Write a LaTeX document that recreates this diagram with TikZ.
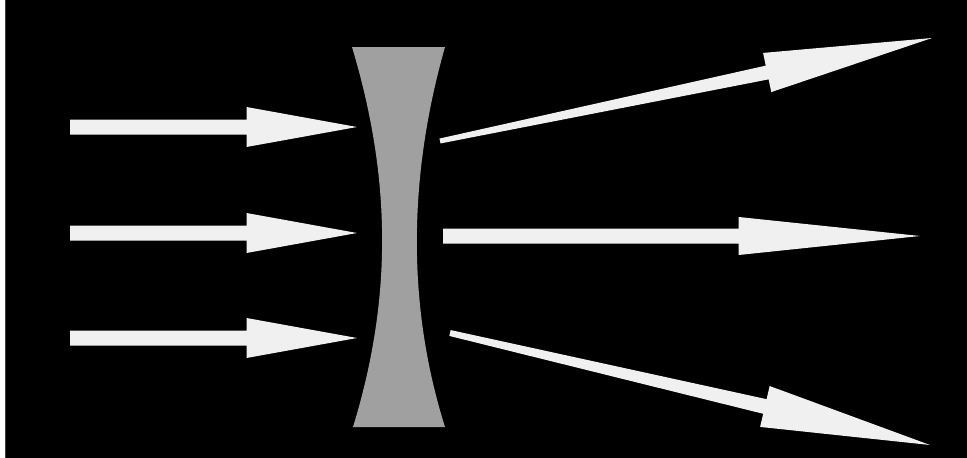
\documentclass[tikz,border=0pt]{standalone}
\usetikzlibrary{calc}
\definecolor{lensgray}{RGB}{160,160,160}
\definecolor{raywhite}{RGB}{240,240,240}
\tikzset{
  ray/.style={fill=raywhite},
  lens/.style={fill=lensgray}
}
% tapered arrow: #1 tail, #2 tip, #3 tail half width, #4 shaft half width at head,
% #5 head-base fraction, #6 head half width
\newcommand\taperarrow[6]{%
  \fill[ray] ($(#1)!#3!90:(#2)$)
    -- ($(#1)!#5!(#2)!#4!90:(#2)$)
    -- ($(#1)!#5!(#2)!#6!90:(#2)$)
    -- (#2)
    -- ($(#1)!#5!(#2)!#6!-90:(#2)$)
    -- ($(#1)!#5!(#2)!#4!-90:(#2)$)
    -- ($(#1)!#3!-90:(#2)$) -- cycle;}
\begin{document}
\begin{tikzpicture}[x=1pt,y=-1pt]
  \useasboundingbox (0,0) rectangle (967,458);
  \fill[white] (0,0) rectangle (967,458);
  \fill[black] (5,0) rectangle (967,458);
  \fill[black!75] (5,0) rectangle (6,458);
  % lens
  \fill[lens] (352,47) -- (445,47)
    .. controls (410,170) and (405,300) .. (445,427)
    -- (353,427)
    .. controls (392,300) and (392,180) .. (352,47) -- cycle;
  % incoming rays
  \coordinate (l1) at (70,127);  \coordinate (t1) at (357,127);
  \coordinate (l2) at (70,233);  \coordinate (t2) at (357,233);
  \coordinate (l3) at (70,338);  \coordinate (t3) at (357,338);
  \taperarrow{l1}{t1}{7.5pt}{7.5pt}{0.615}{20pt}
  \taperarrow{l2}{t2}{7.5pt}{7.5pt}{0.615}{20pt}
  \taperarrow{l3}{t3}{7.5pt}{7.5pt}{0.615}{20pt}
  % outgoing rays
  \coordinate (r1) at (440,141); \coordinate (s1) at (932,38);
  \coordinate (r2) at (443,236); \coordinate (s2) at (920,236);
  \coordinate (r3) at (450,333); \coordinate (s3) at (930,445);
  \taperarrow{r1}{s1}{2.5pt}{7pt}{0.665}{20pt}
  \taperarrow{r2}{s2}{7.5pt}{7.5pt}{0.62}{19pt}
  \taperarrow{r3}{s3}{3pt}{7.5pt}{0.656}{21pt}
\end{tikzpicture}
\end{document}
